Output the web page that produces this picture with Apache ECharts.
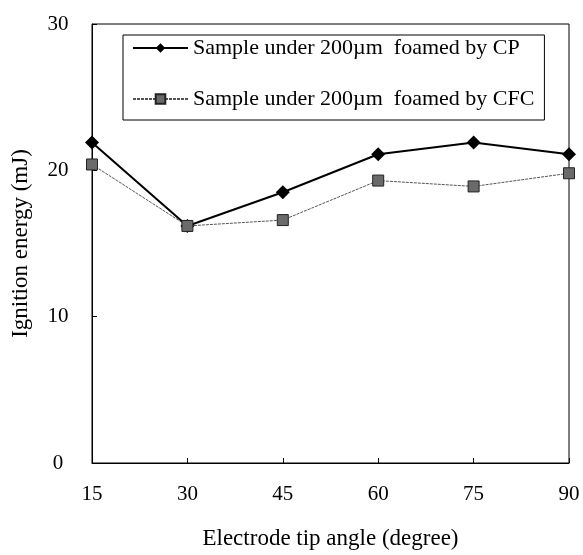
<!DOCTYPE html>
<html>
<head>
<meta charset="utf-8">
<script src="https://cdn.jsdelivr.net/npm/echarts@6/dist/echarts.min.js"></script>
<style>
html,body{margin:0;padding:0;background:#fff;}
#chart{width:583px;height:555px;}
</style>
</head>
<body>
<div id="chart"></div>
<script>
var angles = [15, 30, 45, 60, 75, 90];
var cpValues = [21.9, 16.2, 18.5, 21.1, 21.9, 21.1];
var cfcValues = [20.4, 16.2, 16.6, 19.3, 18.9, 19.8];
var seriesNames = ['Sample under 200\u00b5m  foamed by CP', 'Sample under 200\u00b5m  foamed by CFC'];
var xTitle = 'Electrode tip angle (degree)';
var yTitle = 'Ignition energy (mJ)';

function pairs(xs, ys) { return xs.map(function (x, i) { return [x, ys[i]]; }); }

var serif = '"Liberation Serif", "DejaVu Serif", serif';
var chart = echarts.init(document.getElementById('chart'));
chart.setOption({
  animation: false,
  backgroundColor: '#fff',
  grid: { left: 92, right: 14, top: 24, bottom: 90, show: true, borderColor: '#000', borderWidth: 1 },
  legend: {
    orient: 'vertical',
    left: 123, top: 35,
    padding: [2, 10, 10, 9],
    itemGap: 29,
    itemWidth: 55, itemHeight: 12,
    borderColor: '#000', borderWidth: 1,
    textStyle: { fontFamily: serif, fontSize: 22, color: '#000' },
    data: seriesNames
  },
  xAxis: {
    type: 'value', min: 15, max: 90, interval: 15,
    name: xTitle, nameLocation: 'middle', nameGap: 64,
    nameTextStyle: { fontFamily: serif, fontSize: 23, color: '#000' },
    axisLine: { lineStyle: { color: '#000', width: 1 } },
    axisTick: { inside: true, length: 5, lineStyle: { color: '#000' } },
    axisLabel: { fontFamily: serif, fontSize: 21, color: '#000', margin: 21 },
    splitLine: { show: false }
  },
  yAxis: {
    type: 'value', min: 0, max: 30, interval: 10,
    name: yTitle, nameLocation: 'middle', nameGap: 60, nameRotate: 90,
    nameTextStyle: { fontFamily: serif, fontSize: 23, color: '#000' },
    axisLine: { show: true, lineStyle: { color: '#000', width: 1 } },
    axisTick: { show: true, inside: true, length: 5, lineStyle: { color: '#000' } },
    axisLabel: { fontFamily: serif, fontSize: 21, color: '#000', margin: 34, align: 'center' },
    splitLine: { show: false }
  },
  series: [
    {
      name: seriesNames[0], type: 'line', data: pairs(angles, cpValues),
      symbol: 'diamond', symbolSize: 14,
      itemStyle: { color: '#000' },
      lineStyle: { color: '#000', width: 2 }
    },
    {
      name: seriesNames[1], type: 'line', data: pairs(angles, cfcValues),
      symbol: 'rect', symbolSize: 11,
      itemStyle: { color: '#6a6a6a', borderColor: '#222', borderWidth: 1 },
      lineStyle: { color: '#555', width: 1, type: [3, 1] }
    }
  ]
});
</script>
</body>
</html>
